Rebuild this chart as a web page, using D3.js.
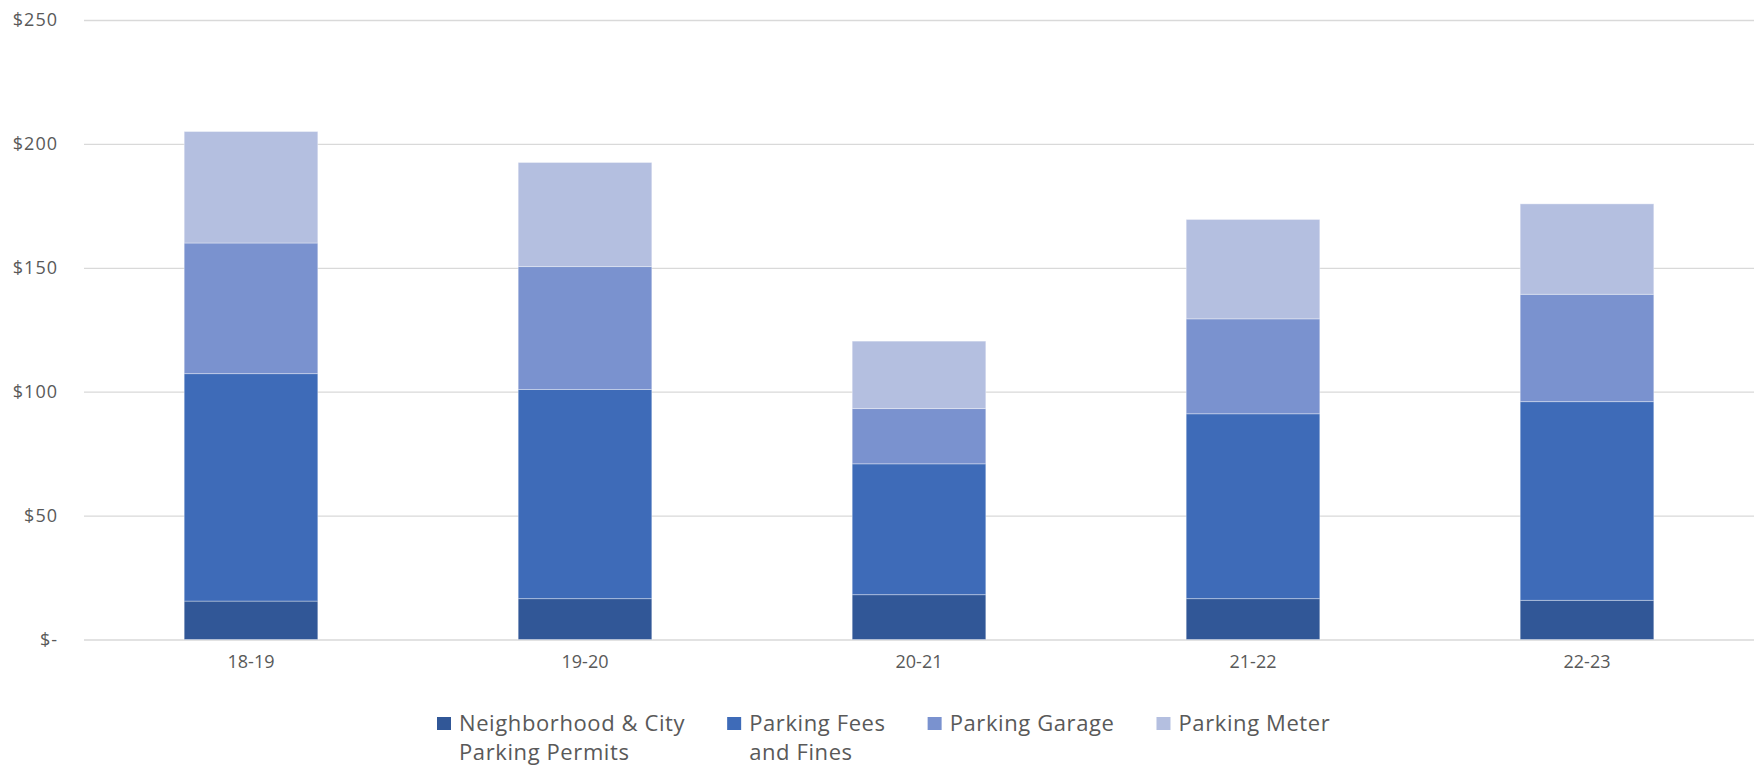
<!DOCTYPE html>
<html>
<head>
<meta charset="utf-8">
<script src="https://cdn.jsdelivr.net/npm/d3@7"></script>
<style>
  html, body { margin: 0; padding: 0; background: #fff; }
  svg { display: block; }
  svg text { font-family: "Open Sans", "Noto Sans", sans-serif; }
</style>
</head>
<body>
<svg id="chart" width="1761" height="767"></svg>
<script>
// fiscal years on the x axis
var years = ['18-19', '19-20', '20-21', '21-22', '22-23'];

// revenue by source, in millions
var permits = [15.5, 16.5, 18.1, 16.5, 15.8];
var feesFines = [91.8, 84.4, 52.8, 74.6, 80.2];
var garage = [52.7, 49.6, 22.3, 38.3, 43.3];
var meter = [45.0, 42.0, 27.2, 40.1, 36.5];

var seriesNames = ['Neighborhood & City Parking Permits', 'Parking Fees and Fines', 'Parking Garage', 'Parking Meter'];
// how the legend wraps each name
var legendLines = [['Neighborhood & City', 'Parking Permits'], ['Parking Fees', 'and Fines'], ['Parking Garage'], ['Parking Meter']];
var yTicks = [0, 50, 100, 150, 200, 250];

var colors = ['#315797', '#3e6bb8', '#7a92cf', '#b4bfe0'];

var svg = d3.select('#chart'),
    plotLeft = 84,
    plotRight = 1754,
    plotTop = 20,
    plotBottom = 639.5;

var rows = years.map(function(yr, i) {
    return { year: yr, s0: permits[i], s1: feesFines[i], s2: garage[i], s3: meter[i] };
});

var stack = d3.stack().keys(['s0', 's1', 's2', 's3']);
var layers = stack(rows);

var x = d3.scaleBand()
    .domain(years)
    .range([plotLeft, plotRight])
    .paddingInner(0.6)
    .paddingOuter(0.3);

var y = d3.scaleLinear()
    .domain([0, 250])
    .range([plotBottom, plotTop]);

// gridlines + dollar labels
var yAxis = d3.axisLeft(y)
    .tickValues(yTicks)
    .tickSize(-(plotRight - plotLeft))
    .tickPadding(26)
    .tickFormat(function(d) { return d === 0 ? '$-' : '$' + d; });

svg.append('g')
    .attr('class', 'y-axis')
    .attr('transform', 'translate(' + plotLeft + ',0)')
    .call(yAxis)
    .call(function(g) {
        g.select('.domain').remove();
        g.selectAll('line').attr('stroke', '#d9d9d9').attr('stroke-width', 1.3);
        g.selectAll('text')
            .attr('fill', '#595959')
            .style('font-size', '18px')
            .style('letter-spacing', '1px');
    });

// stacked bars
svg.append('g')
    .selectAll('g')
    .data(layers)
    .enter()
    .append('g')
    .attr('fill', function(d, i) { return colors[i]; })
    .selectAll('rect')
    .data(function(d) { return d; })
    .enter()
    .append('rect')
    .attr('x', function(d) { return x(d.data.year); })
    .attr('y', function(d) { return y(d[1]); })
    .attr('width', x.bandwidth())
    .attr('height', function(d) { return y(d[0]) - y(d[1]); })
    .attr('stroke', '#ffffff')
    .attr('stroke-opacity', 0.35)
    .attr('stroke-width', 1);

// category labels
var xAxis = d3.axisBottom(x).tickSize(0).tickPadding(16);

svg.append('g')
    .attr('class', 'x-axis')
    .attr('transform', 'translate(0,' + plotBottom + ')')
    .call(xAxis)
    .call(function(g) {
        g.select('.domain').remove();
        g.selectAll('text')
            .attr('fill', '#595959')
            .style('font-size', '18px');
    });

// legend, laid out left to right from the measured text widths
var legend = svg.append('g').attr('class', 'legend');
var lx = 437,
    markerY = 717,
    gap = 42;

legendLines.forEach(function(lines, i) {
    var item = legend.append('g');
    item.append('rect')
        .attr('x', lx)
        .attr('y', markerY)
        .attr('width', 14)
        .attr('height', 13)
        .attr('fill', colors[i]);

    var txt = item.append('text')
        .attr('x', lx + 22)
        .attr('y', 731)
        .attr('fill', '#595959')
        .style('font-size', '22px')
        .style('letter-spacing', '0.6px');

    txt.selectAll('tspan')
        .data(lines)
        .enter()
        .append('tspan')
        .attr('x', lx + 22)
        .attr('dy', function(d, j) { return j === 0 ? 0 : 29; })
        .text(function(d) { return d; });

    var w = d3.max(txt.selectAll('tspan').nodes(), function(n) { return n.getComputedTextLength(); });
    lx = lx + 22 + w + gap;
});
</script>
</body>
</html>
